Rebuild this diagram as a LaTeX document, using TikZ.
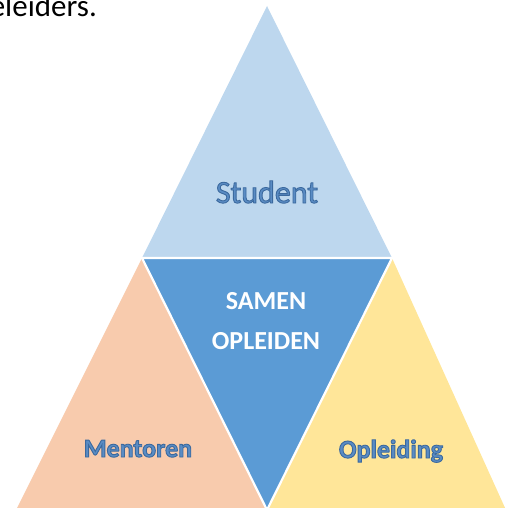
\documentclass[tikz,border=0pt]{standalone}
\usepackage{fontspec}
\setmainfont{Carlito}
\usetikzlibrary{positioning}
\definecolor{topblue}{HTML}{BDD7EE}
\definecolor{midblue}{HTML}{5B9BD5}
\definecolor{peach}{HTML}{F8CBAD}
\definecolor{sand}{HTML}{FFE699}
\definecolor{wordblue}{HTML}{5A8CC4}
\newcommand\outlined[1]{\special{pdf:literal direct 2 Tr 0.9 w 0.23 0.41 0.62 RG}#1\special{pdf:literal direct 0 Tr 0 0 0 RG}}
\tikzset{
  tri/.style = {draw=white, line width=2.2pt, line join=miter},
  word/.style = {anchor=base, text=wordblue, inner sep=0pt,
    font=\bfseries\fontsize{26}{30}\selectfont},
  inner/.style = {anchor=base, text=white, inner sep=0pt,
    font=\bfseries\fontsize{26}{30}\selectfont}
}

\begin{document}
\begin{tikzpicture}[x=1pt,y=-1pt]
\useasboundingbox (0,0) rectangle (508,508);
% corners of the big triangle
\coordinate (apex) at (267,6);
\coordinate (left) at (142,258);
\coordinate (right) at (392,258);
\coordinate (bl) at (16,510);
\coordinate (bm) at (267,510);
\coordinate (br) at (506,510);
% the four parts
\fill [topblue] (apex) -- (right) -- (left) -- cycle;
\fill [peach] (left) -- (bm) -- (bl) -- cycle;
\fill [sand] (right) -- (br) -- (bm) -- cycle;
\filldraw [tri, fill=midblue] (left) -- (right) -- (bm) -- cycle;
% labels
\node [word, font=\fontsize{32}{36}\selectfont] (student) at (267,203) {\outlined{Student}};
\node [inner] (samen) at (266,309) {SAMEN};
\node [inner] (opleiden) at (266,349) {OPLEIDEN};
\node [word] (mentoren) at (138,457) {\outlined{Mentoren}};
\node [word] (opleiding) at (391,458) {\outlined{Opleiding}};
\node [anchor=base east, inner sep=0pt, font=\fontsize{31}{36}\selectfont] (cut) at (97,17) {begeleiders.};
\end{tikzpicture}
\end{document}
